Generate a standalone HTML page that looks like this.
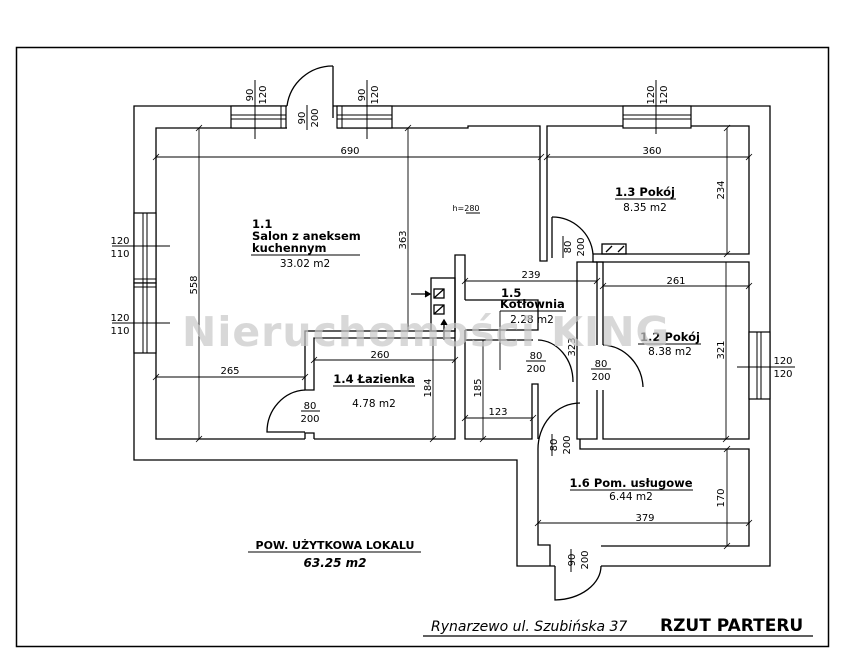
<!DOCTYPE html>
<html><head><meta charset="utf-8"><style>
html,body{margin:0;padding:0;background:#fff;}
svg{display:block;}
text{font-family:"DejaVu Sans","Liberation Sans",sans-serif;fill:#000;}
.d{font-size:10px;}
.b{font-size:11.5px;font-weight:bold;}
.n{font-size:10.5px;}
</style></head><body>
<svg width="844" height="658" viewBox="0 0 844 658" xmlns="http://www.w3.org/2000/svg">
<rect x="0" y="0" width="844" height="658" fill="#fff"/>
<rect x="16.5" y="47.5" width="812" height="599" fill="none" stroke="#000" stroke-width="1.5"/>
<g fill="none" stroke="#000" stroke-width="1.3">
<path d="M287,106 H134 V460 H517 V566 H555"/>
<path d="M333,106 H770 V566 H601"/>
<path d="M287,128 H156 V439 H305 M314,439 H455 V262"/>
<path d="M337,128 H468 V126 H540 V261 H547 V126 H749 V254 H593 V262 H749 V439 H603 V390"/>
<path d="M603,345 V262 H597 V345"/>
<path d="M597,390 V439 H577 V262 H597"/>
<path d="M552,217 V258"/>
<path d="M552,217 A41,41 0 0 1 593,254"/>
<rect x="602" y="244" width="24" height="10"/>
<path d="M606,252 L612,246 M618,252 L624,246"/>
<path d="M455,262 V255 H465 V300 M465,330 V439 H532 V384 H538 V439"/>
<rect x="431" y="278" width="24" height="53"/>
<rect x="434" y="289" width="10" height="9"/><path d="M434,298 L444,289"/>
<rect x="434" y="305" width="10" height="9"/><path d="M434,314 L444,305"/>
<path d="M411,294 H430" /><path d="M425,291 L430,294 L425,297" fill="#000"/>
<path d="M444,340 V320" /><path d="M441,325 L444,320 L447,325" fill="#000"/>
<path d="M465,300 H538 V330 H465"/>
<path d="M455,331 H305 V390 H314 V338 H455"/>
<path d="M465,340 H533"/>
<path d="M538,340 A36,42 0 0 1 573,382"/>
<path d="M305,390 A40,42 0 0 0 267,432 H305"/>
<path d="M305,439 V433 H314 V439"/>
<path d="M603,345 A42,44 0 0 1 643,387"/>
<path d="M580,439 V449 H749 V546 H601"/>
<path d="M580,403 A42,46 0 0 0 538,450 V545 H550 V566"/>
<path d="M555,566 V600 A48,34 0 0 0 601,566"/>
<path d="M333,118 V66"/>
<path d="M287,106 A46,46 0 0 1 333,66"/>
</g>
<g fill="#fff" stroke="#000" stroke-width="1.2">
<rect x="231" y="106" width="55" height="22"/>
<rect x="337" y="106" width="55" height="22"/>
<rect x="623" y="106" width="68" height="22"/>
<rect x="134" y="213" width="22" height="70"/>
<rect x="134" y="283" width="22" height="70"/>
<rect x="749" y="332" width="21" height="67"/>
</g>
<g fill="none" stroke="#000" stroke-width="1">
<path d="M231,115 H286 M231,119 H286 M281,106 V128"/>
<path d="M337,115 H392 M337,119 H392 M342,106 V128"/>
<path d="M623,115 H691 M623,119 H691"/>
<path d="M143,213 V353 M147,213 V353 M134,279 H156 M134,287 H156"/>
<path d="M757,332 V399 M761,332 V399"/>
<path d="M255,80 V139 M367,80 V139 M656,80 V134"/>
<path d="M307,105 V130"/>
<path d="M112,246 H170 M112,323 H170 M737,367 H795"/>
<path d="M301,411 H320 M526,361 H546 M591,369 H611 M563,236 V258 M552,434 V456 M571,549 V572"/>
</g>
<g fill="none" stroke="#000" stroke-width="0.9">
<path d="M156,157 H541 M547,157 H749"/>
<path d="M199,128 V439 M408,128 V331 M727,128 V254 M726,262 V439 M577,262 V439"/>
<path d="M465,281 H597 M603,286 H749"/>
<path d="M156,377 H305 M314,360 H455"/>
<path d="M433,338 V439 M483,340 V439 M465,418 H533"/>
<path d="M727,449 V546 M538,523 H749"/>
<path d="M500,311 V370"/>
<g stroke-width="0.8">
<path d="M153,160 L159,154 M538,160 L544,154 M544,160 L550,154 M746,160 L752,154"/>
<path d="M196,131 L202,125 M196,442 L202,436 M405,131 L411,125 M724,131 L730,125 M724,257 L730,251 M723,442 L729,436"/>
<path d="M462,284 L468,278 M594,284 L600,278 M600,289 L606,283 M746,289 L752,283"/>
<path d="M153,380 L159,374 M302,380 L308,374 M311,363 L317,357 M452,363 L458,357"/>
<path d="M430,442 L436,436 M480,442 L486,436 M462,421 L468,415 M530,421 L536,415"/>
<path d="M724,452 L730,446 M724,549 L730,543 M535,526 L541,520 M746,526 L752,520"/>
</g>
</g>
<g class="d">
<text x="350" y="154" text-anchor="middle">690</text>
<text x="652" y="154" text-anchor="middle">360</text>
<text x="531" y="278" text-anchor="middle">239</text>
<text x="676" y="284" text-anchor="middle">261</text>
<text x="230" y="374" text-anchor="middle">265</text>
<text x="380" y="358" text-anchor="middle">260</text>
<text x="498" y="415" text-anchor="middle">123</text>
<text x="645" y="521" text-anchor="middle">379</text>
<text transform="translate(197,285) rotate(-90)" text-anchor="middle">558</text>
<text transform="translate(406,240) rotate(-90)" text-anchor="middle">363</text>
<text transform="translate(724,190) rotate(-90)" text-anchor="middle">234</text>
<text transform="translate(724,350) rotate(-90)" text-anchor="middle">321</text>
<text transform="translate(575,347) rotate(-90)" text-anchor="middle">323</text>
<text transform="translate(431,388) rotate(-90)" text-anchor="middle">184</text>
<text transform="translate(481,388) rotate(-90)" text-anchor="middle">185</text>
<text transform="translate(724,498) rotate(-90)" text-anchor="middle">170</text>
<text x="466" y="211" text-anchor="middle" font-size="8">h=280</text>
<text transform="translate(253,95) rotate(-90)" text-anchor="middle">90</text>
<text transform="translate(266,95) rotate(-90)" text-anchor="middle">120</text>
<text transform="translate(365,95) rotate(-90)" text-anchor="middle">90</text>
<text transform="translate(378,95) rotate(-90)" text-anchor="middle">120</text>
<text transform="translate(654,95) rotate(-90)" text-anchor="middle">120</text>
<text transform="translate(667,95) rotate(-90)" text-anchor="middle">120</text>
<text transform="translate(305,118) rotate(-90)" text-anchor="middle">90</text>
<text transform="translate(318,118) rotate(-90)" text-anchor="middle">200</text>
<text transform="translate(571,247) rotate(-90)" text-anchor="middle">80</text>
<text transform="translate(584,247) rotate(-90)" text-anchor="middle">200</text>
<text transform="translate(557,445) rotate(-90)" text-anchor="middle">80</text>
<text transform="translate(570,445) rotate(-90)" text-anchor="middle">200</text>
<text transform="translate(575,560) rotate(-90)" text-anchor="middle">90</text>
<text transform="translate(588,560) rotate(-90)" text-anchor="middle">200</text>
<text x="120" y="244" text-anchor="middle">120</text>
<text x="120" y="257" text-anchor="middle">110</text>
<text x="120" y="321" text-anchor="middle">120</text>
<text x="120" y="334" text-anchor="middle">110</text>
<text x="783" y="364" text-anchor="middle">120</text>
<text x="783" y="377" text-anchor="middle">120</text>
<text x="310" y="409" text-anchor="middle">80</text>
<text x="310" y="422" text-anchor="middle">200</text>
<text x="536" y="359" text-anchor="middle">80</text>
<text x="536" y="372" text-anchor="middle">200</text>
<text x="601" y="367" text-anchor="middle">80</text>
<text x="601" y="380" text-anchor="middle">200</text>
</g>
<g fill="none" stroke="#000" stroke-width="0.9">
<path d="M251,255 H360 M615,199 H676 M500,311 H566 M638,344 H701 M333,386 H415 M570,490 H693 M248,552 H421 M466,213 H480"/>
<path d="M423,636 H813" stroke-width="1.2"/>
</g>
<text class="b" x="252" y="228">1.1</text>
<text class="b" x="252" y="240">Salon z aneksem</text>
<text class="b" x="252" y="252">kuchennym</text>
<text class="n" x="305" y="267" text-anchor="middle">33.02 m2</text>
<text class="b" x="645" y="196" text-anchor="middle">1.3 Pokój</text>
<text class="n" x="645" y="211" text-anchor="middle">8.35 m2</text>
<text class="b" x="501" y="297">1.5</text>
<text class="b" x="500" y="308">Kotłownia</text>
<text class="n" x="532" y="323" text-anchor="middle">2.28 m2</text>
<text class="b" x="670" y="341" text-anchor="middle">1.2 Pokój</text>
<text class="n" x="670" y="355" text-anchor="middle">8.38 m2</text>
<text class="b" x="374" y="383" text-anchor="middle">1.4 Łazienka</text>
<text class="n" x="374" y="407" text-anchor="middle">4.78 m2</text>
<text class="b" x="631" y="487" text-anchor="middle">1.6 Pom. usługowe</text>
<text class="n" x="631" y="500" text-anchor="middle">6.44 m2</text>
<text x="335" y="549" text-anchor="middle" font-size="11" font-weight="bold" font-family="Liberation Sans, sans-serif">POW. UŻYTKOWA LOKALU</text>
<text x="335" y="567" text-anchor="middle" font-size="12" font-weight="bold" font-style="italic" font-family="Liberation Sans, sans-serif">63.25 m2</text>
<text x="431" y="631" font-size="14" font-style="italic" font-family="Liberation Sans, sans-serif">Rynarzewo ul. Szubińska 37</text>
<text x="660" y="631" font-size="17" font-weight="bold" font-family="Liberation Sans, sans-serif">RZUT PARTERU</text>
<text x="182" y="346" font-size="41" font-weight="bold" font-family="DejaVu Sans, sans-serif" letter-spacing="1" style="fill:#c8c8c8;fill-opacity:0.7">Nieruchomości KING</text>
</svg>
</body></html>
